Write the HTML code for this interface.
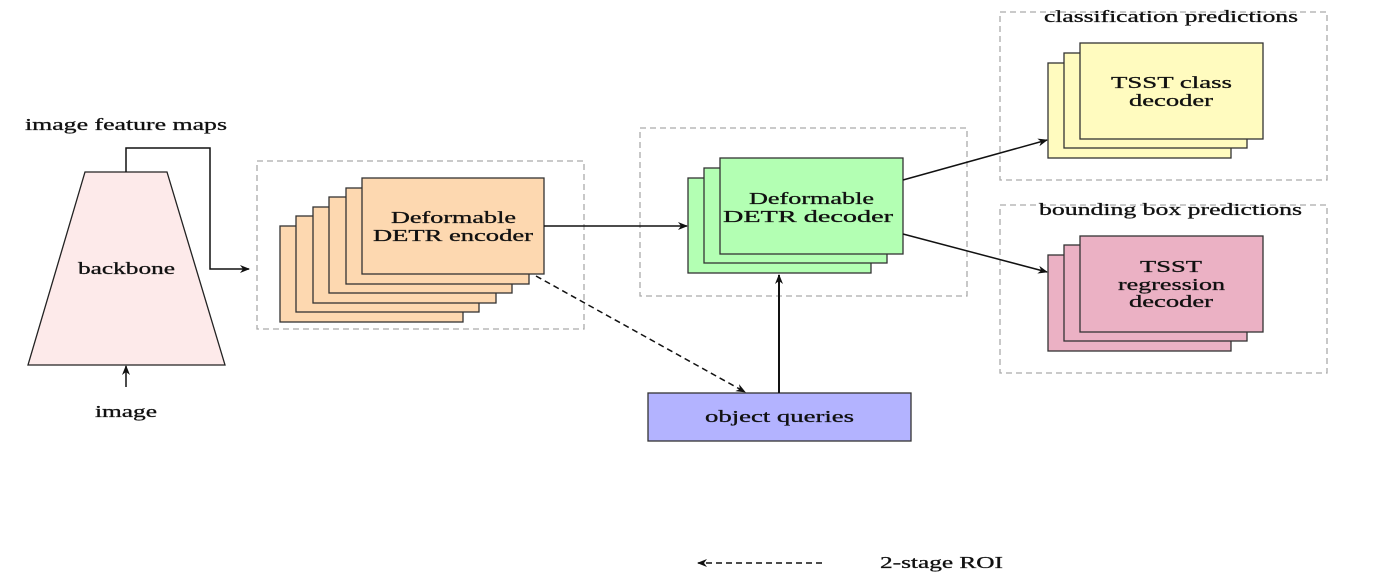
<!DOCTYPE html>
<html><head><meta charset="utf-8"><style>
html,body{margin:0;padding:0;background:#fff;width:1376px;height:579px;overflow:hidden}
text{font-family:"Liberation Serif",serif;font-size:17px;fill:#111;stroke:#111;stroke-width:0.3}
</style></head><body>
<svg width="1376" height="579" viewBox="0 0 1376 579" xmlns="http://www.w3.org/2000/svg">
<defs>
<marker id="a" markerWidth="10" markerHeight="8" refX="9" refY="4" orient="auto" markerUnits="userSpaceOnUse">
<path d="M0,0 L10,4 L0,8 L3,4 z" fill="#111"/></marker>
</defs>
<g fill="none" stroke="#aaa" stroke-width="1.3" stroke-dasharray="6,4">
<rect x="257" y="161" width="327" height="168"/>
<rect x="640" y="128" width="327" height="168"/>
<rect x="1000" y="12" width="327" height="168"/>
<rect x="1000" y="205" width="327" height="168"/>
</g>
<polygon points="85,172 167,172 225,365 28,365" fill="#fdeaea" stroke="#222" stroke-width="1.3"/>
<text x="78" y="274" textLength="97" lengthAdjust="spacingAndGlyphs">backbone</text>
<text x="25" y="130" textLength="202" lengthAdjust="spacingAndGlyphs">image feature maps</text>
<text x="95" y="417" textLength="62" lengthAdjust="spacingAndGlyphs">image</text>
<polyline points="126,172 126,148 210,148 210,269 249,269" fill="none" stroke="#111" stroke-width="1.5" marker-end="url(#a)"/>
<line x1="126" y1="387" x2="126" y2="366" stroke="#111" stroke-width="1.5" marker-end="url(#a)"/>
<g fill="#fdd8b0" stroke="#333" stroke-width="1.3">
<rect x="280" y="226" width="183" height="96"/>
<rect x="296" y="216" width="183" height="96"/>
<rect x="313" y="207" width="183" height="96"/>
<rect x="329" y="197" width="183" height="96"/>
<rect x="346" y="188" width="183" height="96"/>
<rect x="362" y="178" width="182" height="96"/>
</g>
<text x="391" y="223" textLength="125" lengthAdjust="spacingAndGlyphs">Deformable</text>
<text x="373" y="241" textLength="160" lengthAdjust="spacingAndGlyphs">DETR encoder</text>
<g fill="#b3ffb3" stroke="#333" stroke-width="1.3">
<rect x="688" y="178" width="183" height="95"/>
<rect x="704" y="168" width="183" height="95"/>
<rect x="720" y="158" width="183" height="96"/>
</g>
<text x="749" y="204" textLength="125" lengthAdjust="spacingAndGlyphs">Deformable</text>
<text x="723" y="222" textLength="170" lengthAdjust="spacingAndGlyphs">DETR decoder</text>
<g fill="#fffbbf" stroke="#333" stroke-width="1.3">
<rect x="1048" y="63" width="183" height="95"/>
<rect x="1064" y="53" width="183" height="95"/>
<rect x="1080" y="43" width="183" height="96"/>
</g>
<text x="1111" y="88" textLength="121" lengthAdjust="spacingAndGlyphs">TSST class</text>
<text x="1129" y="106" textLength="84" lengthAdjust="spacingAndGlyphs">decoder</text>
<g fill="#ebb1c4" stroke="#333" stroke-width="1.3">
<rect x="1048" y="255" width="183" height="96"/>
<rect x="1064" y="245" width="183" height="96"/>
<rect x="1080" y="236" width="183" height="96"/>
</g>
<text x="1140" y="272" textLength="62" lengthAdjust="spacingAndGlyphs">TSST</text>
<text x="1118" y="290" textLength="107" lengthAdjust="spacingAndGlyphs">regression</text>
<text x="1129" y="307" textLength="84" lengthAdjust="spacingAndGlyphs">decoder</text>
<text x="1044" y="22" textLength="254" lengthAdjust="spacingAndGlyphs">classification predictions</text>
<text x="1039" y="215" textLength="263" lengthAdjust="spacingAndGlyphs">bounding box predictions</text>
<rect x="648" y="393" width="263" height="48" fill="#b3b3ff" stroke="#333" stroke-width="1.3"/>
<text x="705" y="422" textLength="149" lengthAdjust="spacingAndGlyphs">object queries</text>
<g stroke="#111" stroke-width="1.5" fill="none">
<line x1="544" y1="226" x2="687" y2="226" marker-end="url(#a)"/>
<line x1="536" y1="276" x2="745" y2="392" stroke-dasharray="6,4" marker-end="url(#a)"/>
<line x1="779" y1="393" x2="779" y2="275" stroke-width="2" marker-end="url(#a)"/>
<line x1="903" y1="180" x2="1047" y2="140" marker-end="url(#a)"/>
<line x1="903" y1="234" x2="1047" y2="272" marker-end="url(#a)"/>
<line x1="822" y1="563" x2="698" y2="563" stroke-dasharray="6,4" marker-end="url(#a)"/>
</g>
<text x="880" y="568" textLength="123" lengthAdjust="spacingAndGlyphs">2-stage ROI</text>
</svg>
</body></html>
